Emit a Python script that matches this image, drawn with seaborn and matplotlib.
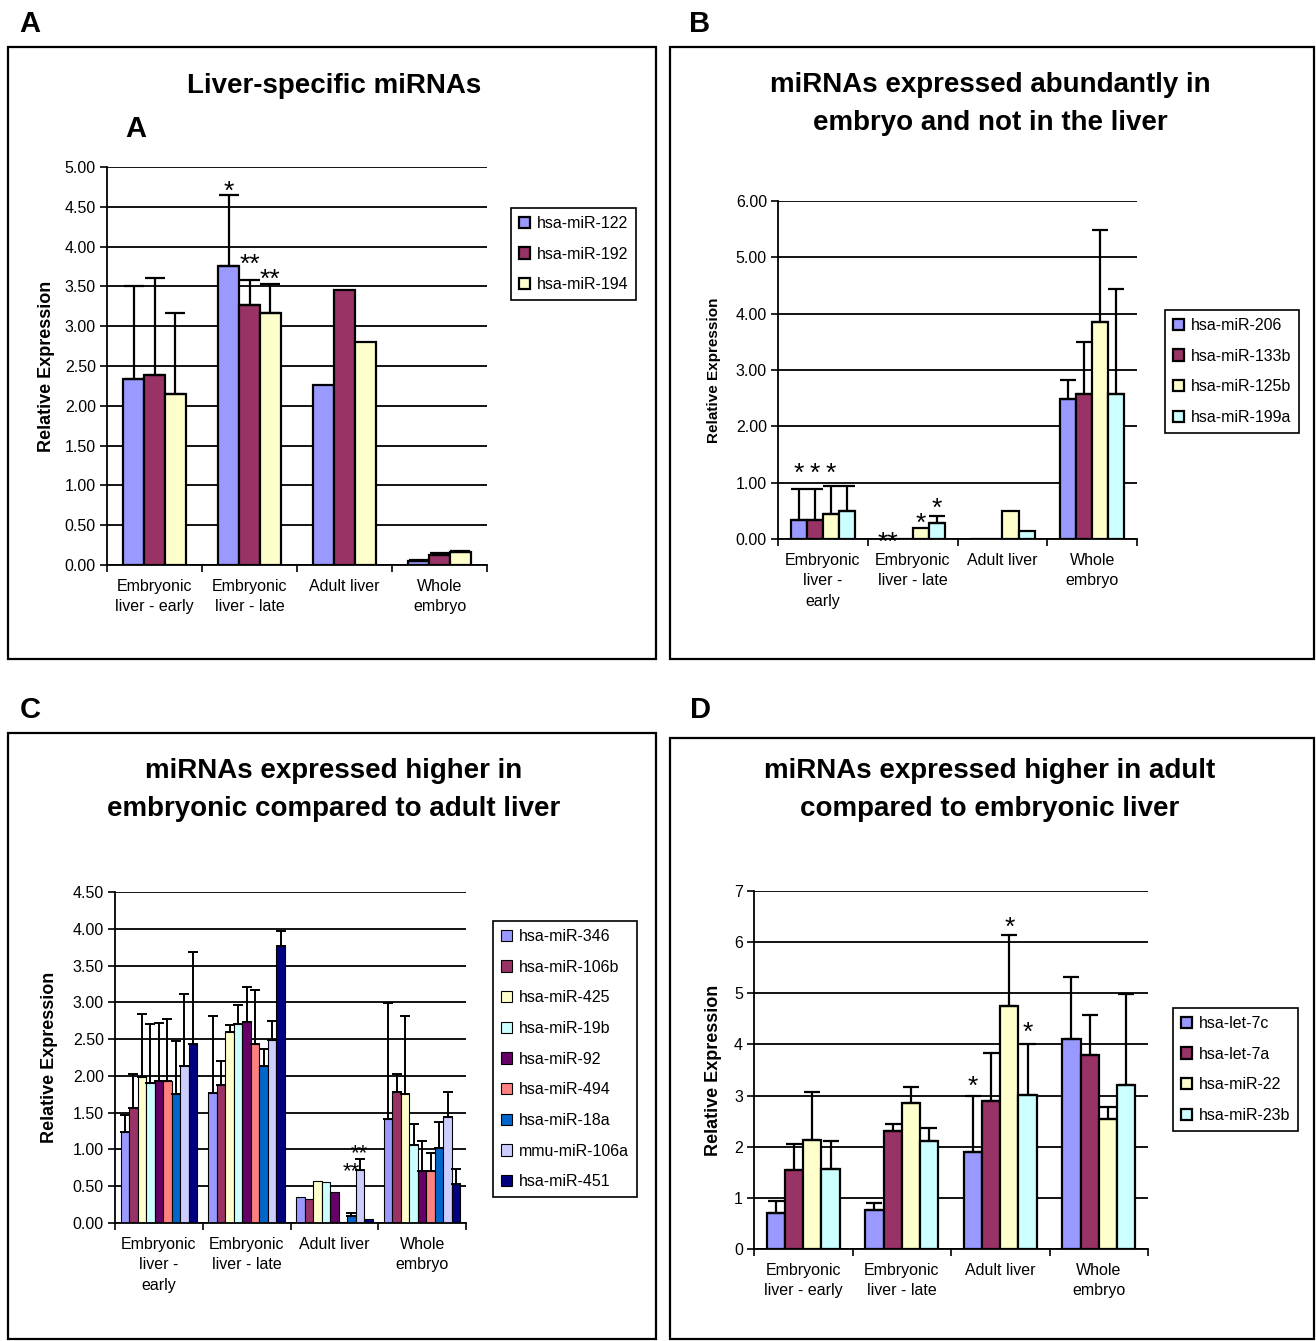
import numpy as np
import pandas as pd
import matplotlib
matplotlib.use("Agg")
import matplotlib.pyplot as plt
import seaborn as sns
from matplotlib.patches import Rectangle
from matplotlib.ticker import FormatStrFormatter

sns.set_style("ticks")
plt.rcParams["font.family"] = ["Liberation Sans", "DejaVu Sans"]
plt.rcParams["text.color"] = "black"
plt.rcParams["axes.labelcolor"] = "black"
plt.rcParams["xtick.color"] = "black"
plt.rcParams["ytick.color"] = "black"

nan = np.nan

# ---------------- data ----------------
cats_AD = ["Embryonic\nliver - early", "Embryonic\nliver - late", "Adult liver", "Whole\nembryo"]
cats_BC = ["Embryonic\nliver -\nearly", "Embryonic\nliver - late", "Adult liver", "Whole\nembryo"]

# Panel A
names_A = ["hsa-miR-122", "hsa-miR-192", "hsa-miR-194"]
a_mir122 = [2.34, 3.75, 2.26, 0.05]
a_mir192 = [2.39, 3.27, 3.46, 0.13]
a_mir194 = [2.15, 3.17, 2.80, 0.16]
a_err122 = [1.16, 0.90, nan, 0.01]
a_err192 = [1.22, 0.31, nan, 0.02]
a_err194 = [1.02, 0.36, nan, 0.02]

# Panel B
names_B = ["hsa-miR-206", "hsa-miR-133b", "hsa-miR-125b", "hsa-miR-199a"]
b_mir206 = [0.33, 0.00, 0.00, 2.49]
b_mir133b = [0.33, 0.00, 0.00, 2.57]
b_mir125b = [0.44, 0.20, 0.49, 3.86]
b_mir199a = [0.49, 0.28, 0.15, 2.57]
b_err206 = [0.55, nan, nan, 0.33]
b_err133b = [0.55, nan, nan, 0.92]
b_err125b = [0.50, nan, nan, 1.63]
b_err199a = [0.45, 0.13, nan, 1.87]

# Panel C
names_C = ["hsa-miR-346", "hsa-miR-106b", "hsa-miR-425", "hsa-miR-19b", "hsa-miR-92",
           "hsa-miR-494", "hsa-miR-18a", "mmu-miR-106a", "hsa-miR-451"]
c_mir346 = [1.24, 1.77, 0.36, 1.41]
c_mir106b = [1.56, 1.87, 0.33, 1.78]
c_mir425 = [1.98, 2.60, 0.57, 1.75]
c_mir19b = [1.90, 2.70, 0.56, 1.06]
c_mir92 = [1.93, 2.73, 0.42, 0.71]
c_mir494 = [1.93, 2.44, 0.01, 0.71]
c_mir18a = [1.76, 2.13, 0.10, 1.02]
c_mir106a = [2.13, 2.49, 0.72, 1.44]
c_mir451 = [2.44, 3.77, 0.06, 0.53]
c_err346 = [0.23, 1.05, nan, 1.58]
c_err106b = [0.46, 0.33, nan, 0.25]
c_err425 = [0.86, 0.09, nan, 1.07]
c_err19b = [0.81, 0.26, nan, 0.28]
c_err92 = [0.79, 0.48, nan, 0.41]
c_err494 = [0.84, 0.73, nan, 0.24]
c_err18a = [0.72, 0.23, 0.04, 0.35]
c_err106a = [0.99, 0.26, 0.15, 0.34]
c_err451 = [1.25, 0.20, nan, 0.21]

# Panel D
names_D = ["hsa-let-7c", "hsa-let-7a", "hsa-miR-22", "hsa-miR-23b"]
d_let7c = [0.70, 0.76, 1.89, 4.11]
d_let7a = [1.54, 2.30, 2.89, 3.79]
d_mir22 = [2.14, 2.85, 4.75, 2.54]
d_mir23b = [1.57, 2.12, 3.02, 3.20]
d_err7c = [0.24, 0.13, 1.11, 1.21]
d_err7a = [0.52, 0.14, 0.94, 0.78]
d_err22 = [0.93, 0.31, 1.39, 0.24]
d_err23b = [0.55, 0.24, 0.99, 1.79]

# significance marks: (category index, series index, text, y)
ann_A = [(1, 0, "*", 4.78), (1, 1, "**", 3.86), (1, 2, "**", 3.67)]
ann_B = [(0, 0, "*", 1.28), (0, 1, "*", 1.28), (0, 2, "*", 1.28),
         (1, 0, "**", 0.06), (1, 2, "*", 0.40), (1, 3, "*", 0.66)]
ann_C = [(2, 6, "**", 0.79), (2, 7, "**", 1.03)]
ann_D = [(2, 0, "*", 3.31), (2, 2, "*", 6.42), (2, 3, "*", 4.36)]

pal3 = ["#9999FF", "#993366", "#FFFFCC"]
pal4 = ["#9999FF", "#993366", "#FFFFCC", "#CCFFFF"]
pal9 = ["#9999FF", "#993366", "#FFFFCC", "#CCFFFF", "#660066",
        "#FF8080", "#0066CC", "#CCCCFF", "#000080"]

W, H = 1316, 1341
fig = plt.figure(figsize=(W / 100, H / 100), dpi=100)


def fx(x):
    return x / W


def fy(y):
    return 1 - y / H


def panel(axbox, cats, names, vals, errs, pal, ymax, yticks, fmt, width, lw,
          elw, capsize, ann, leg_xy, ylabel_x, ylabel_fs, tick_fs=11.5,
          star_fs=19):
    x0, y0, x1, y1 = axbox
    ax = fig.add_axes([fx(x0), fy(y1), (x1 - x0) / W, (y1 - y0) / H])
    rows = []
    for n, v in zip(names, vals):
        for c, val in zip(cats, v):
            rows.append({"cat": c, "series": n, "val": val})
    df = pd.DataFrame(rows)
    sns.barplot(data=df, x="cat", y="val", hue="series", order=cats, hue_order=names,
                palette=pal, saturation=1, edgecolor="black", linewidth=lw,
                width=width, errorbar=None, ax=ax)
    bar_conts = list(ax.containers[:len(names)])
    for i, cont in enumerate(bar_conts):
        for j, bar in enumerate(cont):
            e = errs[i][j]
            if not np.isnan(e):
                xc = bar.get_x() + bar.get_width() / 2
                ax.errorbar(xc, bar.get_height(), yerr=[[0], [e]], fmt="none",
                            ecolor="black", elinewidth=elw, capsize=capsize,
                            capthick=elw, zorder=3)
    for (ci, si, txt, yv) in ann:
        bar = bar_conts[si][ci]
        xc = bar.get_x() + bar.get_width() / 2
        ax.annotate(txt, (xc, yv), xytext=(0, -5), textcoords="offset points",
                    ha="center", va="center", fontsize=star_fs, zorder=4)
    ax.set_ylim(0, ymax)
    ax.set_xlim(-0.5, len(cats) - 0.5)
    ax.set_yticks(yticks)
    ax.yaxis.set_major_formatter(FormatStrFormatter(fmt))
    ax.yaxis.grid(True, color="black", lw=1.3)
    ax.set_axisbelow(True)
    ax.set_xlabel("")
    ax.set_ylabel("Relative Expression", fontsize=ylabel_fs, fontweight="bold")
    ax.yaxis.set_label_coords(ylabel_x, 0.5)
    for s in ["top", "right"]:
        ax.spines[s].set_visible(False)
    for s in ["left", "bottom"]:
        ax.spines[s].set_linewidth(1.3)
        ax.spines[s].set_color("black")
    ax.set_xticks(range(len(cats)))
    ax.set_xticklabels(cats, fontsize=tick_fs, linespacing=1.45)
    ax.set_xticks([k - 0.5 for k in range(len(cats) + 1)], minor=True)
    ax.tick_params(axis="x", which="major", length=0, pad=10)
    ax.tick_params(axis="x", which="minor", length=5, width=1.2, direction="out")
    ax.tick_params(axis="y", length=5, width=1.2, labelsize=tick_fs, pad=3)
    handles = [bc.patches[0] for bc in bar_conts]
    ax.legend(handles, list(names), loc="upper left",
              bbox_to_anchor=(fx(leg_xy[0]), fy(leg_xy[1])),
              bbox_transform=fig.transFigure, borderaxespad=0, fontsize=11.5,
              frameon=True, fancybox=False, framealpha=1, edgecolor="black",
              handlelength=0.7, handleheight=0.7, handletextpad=0.4,
              labelspacing=0.98, borderpad=0.5)
    ax.get_legend().get_frame().set_linewidth(1.2)
    return ax


panel((107, 167, 487, 565), cats_AD, names_A,
      [a_mir122, a_mir192, a_mir194], [a_err122, a_err192, a_err194], pal3,
      5.0, np.arange(0, 5.01, 0.5), "%.2f", 0.66, 1.6, 1.6, 7, ann_A,
      (511, 208), -0.137, 13)

panel((778, 201, 1137, 539), cats_BC, names_B,
      [b_mir206, b_mir133b, b_mir125b, b_mir199a],
      [b_err206, b_err133b, b_err125b, b_err199a], pal4,
      6.0, np.arange(0, 6.01, 1.0), "%.2f", 0.72, 1.6, 1.6, 6, ann_B,
      (1165, 310), -0.16, 11)

panel((115, 892, 466, 1223), cats_BC, names_C,
      [c_mir346, c_mir106b, c_mir425, c_mir19b, c_mir92, c_mir494, c_mir18a,
       c_mir106a, c_mir451],
      [c_err346, c_err106b, c_err425, c_err19b, c_err92, c_err494, c_err18a,
       c_err106a, c_err451], pal9,
      4.5, np.arange(0, 4.51, 0.5), "%.2f", 0.87, 0.8, 1.4, 3.5, ann_C,
      (493, 921), -0.162, 13, star_fs=16)

panel((754, 891, 1148, 1249), cats_AD, names_D,
      [d_let7c, d_let7a, d_mir22, d_mir23b], [d_err7c, d_err7a, d_err22, d_err23b],
      pal4, 7.0, np.arange(0, 7.01, 1), "%d", 0.74, 1.6, 1.6, 6, ann_D,
      (1173, 1008), -0.081, 13)

# panel boxes
for (x0, y0, x1, y1) in [(8, 47, 656, 659), (670, 47, 1314, 659),
                         (8, 733, 656, 1339), (670, 738, 1314, 1339)]:
    fig.add_artist(Rectangle((fx(x0), fy(y1)), (x1 - x0) / W, (y1 - y0) / H,
                             transform=fig.transFigure, fill=False, lw=1.6,
                             ec="black"))

# panel letters
for txt, x, y in [("A", 30, 24), ("B", 700, 24), ("C", 30, 710), ("D", 700, 710)]:
    fig.text(fx(x), fy(y), txt, ha="center", va="center", fontsize=21,
             fontweight="bold")
fig.text(fx(136), fy(129), "A", ha="center", va="center", fontsize=21,
         fontweight="bold")

# titles
tfs = 20
fig.text(fx(334), fy(86), "Liver-specific miRNAs", ha="center", va="center",
         fontsize=tfs, fontweight="bold")
fig.text(fx(990), fy(104), "miRNAs expressed abundantly in\nembryo and not in the liver",
         ha="center", va="center", fontsize=tfs, fontweight="bold", linespacing=1.55)
fig.text(fx(334), fy(790), "miRNAs expressed higher in\nembryonic compared to adult liver",
         ha="center", va="center", fontsize=tfs, fontweight="bold", linespacing=1.55)
fig.text(fx(990), fy(790), "miRNAs expressed higher in adult\ncompared to embryonic liver",
         ha="center", va="center", fontsize=tfs, fontweight="bold", linespacing=1.55)

fig.savefig("out.png", dpi=100)
